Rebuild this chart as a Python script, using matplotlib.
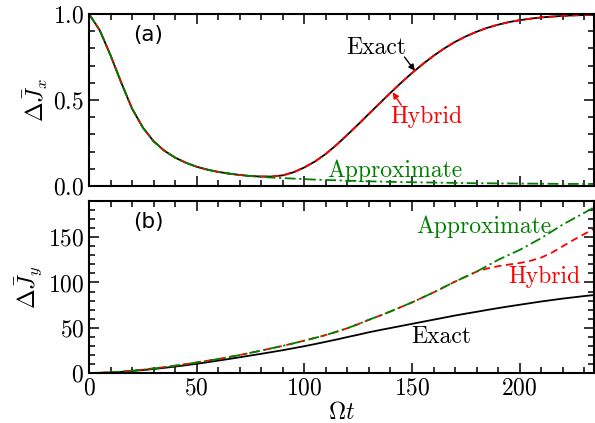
import numpy as np
import matplotlib
matplotlib.use("Agg")
import matplotlib.pyplot as plt
from matplotlib.ticker import MultipleLocator

plt.rcParams['mathtext.fontset'] = 'cm'
plt.rcParams['font.family'] = 'serif'
plt.rcParams['font.serif'] = ['cmr10', 'DejaVu Serif']
plt.rcParams['axes.formatter.use_mathtext'] = True

t = list(range(0, 240, 5))

jx_exact = [1.000, 0.905, 0.760, 0.600, 0.450, 0.340, 0.260, 0.205, 0.165, 0.135,
            0.112, 0.095, 0.082, 0.072, 0.064, 0.058, 0.055, 0.055, 0.062, 0.080,
            0.108, 0.143, 0.187, 0.240, 0.298, 0.358, 0.420, 0.481, 0.542, 0.601,
            0.657, 0.709, 0.757, 0.800, 0.838, 0.870, 0.897, 0.920, 0.938, 0.953,
            0.964, 0.973, 0.980, 0.985, 0.989, 0.992, 0.994, 0.995]
jx_hybrid = [1.000, 0.905, 0.760, 0.600, 0.450, 0.340, 0.260, 0.205, 0.165, 0.135,
             0.112, 0.095, 0.082, 0.072, 0.064, 0.058, 0.055, 0.055, 0.062, 0.080,
             0.108, 0.143, 0.187, 0.240, 0.298, 0.358, 0.420, 0.481, 0.542, 0.601,
             0.657, 0.709, 0.757, 0.800, 0.838, 0.870, 0.897, 0.920, 0.938, 0.953,
             0.964, 0.973, 0.980, 0.985, 0.989, 0.992, 0.994, 0.995]
jx_approx = [1.000, 0.905, 0.760, 0.600, 0.450, 0.340, 0.260, 0.205, 0.165, 0.135,
             0.112, 0.095, 0.082, 0.072, 0.064, 0.058, 0.053, 0.049, 0.046, 0.043,
             0.040, 0.037, 0.035, 0.033, 0.031, 0.029, 0.027, 0.026, 0.024, 0.023,
             0.022, 0.021, 0.020, 0.019, 0.018, 0.017, 0.016, 0.016, 0.015, 0.015,
             0.014, 0.014, 0.013, 0.013, 0.012, 0.012, 0.012, 0.012]

jy_exact = [0, 0.2, 0.6, 1.3, 2.2, 3.2, 4.4, 5.7, 7.1, 8.6,
            10.2, 11.9, 13.7, 15.5, 17.4, 19.3, 21.2, 23.2, 25.2, 27.4,
            29.6, 32.0, 34.5, 37.0, 39.7, 42.3, 45.0, 47.4, 49.7, 52.0,
            54.3, 56.6, 58.9, 61.2, 63.5, 65.6, 67.6, 69.7, 71.7, 73.6,
            75.4, 77.2, 79.0, 80.6, 82.2, 83.6, 85.0, 86.2]
jy_approx = [0, 0.2, 0.7, 1.5, 2.5, 3.7, 5.0, 6.5, 8.1, 9.8,
             11.6, 13.5, 15.5, 17.6, 19.9, 22.3, 24.8, 27.4, 30.0, 32.8,
             35.8, 38.8, 42.0, 45.6, 49.5, 54.0, 58.8, 63.3, 68.0, 73.0,
             78.0, 83.5, 89.0, 95.0, 101.0, 106.5, 112.0, 118.5, 125.0, 130.5,
             136.0, 142.5, 149.0, 156.5, 164.0, 170.5, 177.0, 183.5]
jy_hybrid = [0, 0.2, 0.7, 1.5, 2.5, 3.7, 5.0, 6.5, 8.1, 9.8,
             11.6, 13.5, 15.5, 17.6, 19.9, 22.3, 24.8, 27.4, 30.0, 32.8,
             35.8, 38.8, 42.0, 45.6, 49.5, 54.0, 58.8, 63.3, 68.0, 73.0,
             78.0, 83.5, 89.0, 95.0, 101.0, 106.5, 112.0, 115.5, 118.0, 119.8,
             121.5, 124.0, 127.5, 133.0, 140.0, 147.0, 153.5, 160.0]

W, H = 595, 423
fig = plt.figure(figsize=(W / 100, H / 100), dpi=100)
ax1 = fig.add_axes([89 / W, 1 - 186 / H, (594 - 89) / W, (186 - 14) / H])
ax2 = fig.add_axes([89 / W, 1 - 373 / H, (594 - 89) / W, (373 - 201) / H])

GREEN = '#008000'
RED = '#ff0000'
lw = 1.3

ax1.plot(t, jx_exact, color='black', lw=lw, ls='-')
ax1.plot(t, jx_hybrid, color=RED, lw=lw, ls=(0, (4, 2.5)))
ax1.plot(t, jx_approx, color=GREEN, lw=lw, ls=(0, (6, 2, 1.2, 2)))

ax2.plot(t, jy_exact, color='black', lw=lw, ls='-')
ax2.plot(t, jy_hybrid, color=RED, lw=lw, ls=(0, (4, 2.5)))
ax2.plot(t, jy_approx, color=GREEN, lw=lw, ls=(0, (6, 2, 1.2, 2)))

for ax in (ax1, ax2):
    ax.set_xlim(0, 234.5)
    ax.xaxis.set_major_locator(MultipleLocator(50))
    ax.xaxis.set_minor_locator(MultipleLocator(10))
    ax.tick_params(which='both', direction='in', top=True, right=True,
                   labelsize=17, width=1.1)
    ax.tick_params(which='major', length=7)
    ax.tick_params(which='minor', length=4)
    for s in ax.spines.values():
        s.set_linewidth(1.5)

ax1.set_ylim(0, 1)
ax1.yaxis.set_major_locator(MultipleLocator(0.5))
ax1.yaxis.set_minor_locator(MultipleLocator(0.1))
ax1.tick_params(labelbottom=False)
ax1.set_ylabel(r'$\Delta\bar{J}_x$', fontsize=17, labelpad=2)

ax2.set_ylim(0, 190)
ax2.yaxis.set_major_locator(MultipleLocator(50))
ax2.yaxis.set_minor_locator(MultipleLocator(10))
ax2.set_ylabel(r'$\Delta\bar{J}_y$', fontsize=17, labelpad=2)
ax2.set_xlabel(r'$\Omega t$', fontsize=17, labelpad=1)

ax1.text(0.087, 0.88, '(a)', transform=ax1.transAxes, fontsize=15.5,
         family='DejaVu Sans', ha='left', va='center')
ax2.text(0.087, 0.88, '(b)', transform=ax2.transAxes, fontsize=15.5,
         family='DejaVu Sans', ha='left', va='center')

tsize = 17
ax1.text(133.6, 0.80, 'Exact', color='black', fontsize=tsize, ha='center', va='center')
ax1.annotate('', xy=(151.3, 0.67), xytext=(146.5, 0.75),
             arrowprops=dict(arrowstyle='-|>', color='black', lw=1.0,
                             mutation_scale=9, shrinkA=0, shrinkB=0))
ax1.text(156.8, 0.40, 'Hybrid', color=RED, fontsize=tsize, ha='center', va='center')
ax1.annotate('', xy=(141.0, 0.545), xytext=(145.0, 0.47),
             arrowprops=dict(arrowstyle='-|>', color=RED, lw=1.0,
                             mutation_scale=9, shrinkA=0, shrinkB=0))
ax1.text(141.8, 0.09, 'Approximate', color=GREEN, fontsize=tsize, ha='center', va='center')

ax2.text(183.3, 162, 'Approximate', color=GREEN, fontsize=tsize, ha='center', va='center')
ax2.text(211.6, 106, 'Hybrid', color=RED, fontsize=tsize, ha='center', va='center')
ax2.text(163.8, 40, 'Exact', color='black', fontsize=tsize, ha='center', va='center')

fig.savefig('out.png', dpi=100)
